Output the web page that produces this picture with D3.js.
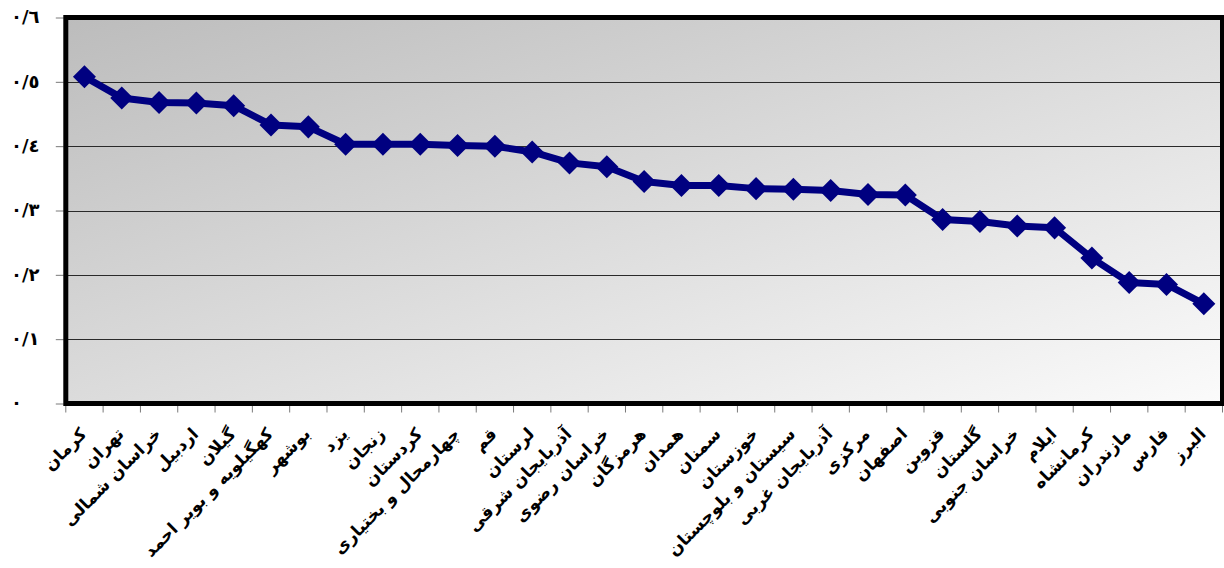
<!DOCTYPE html>
<html>
<head>
<meta charset="utf-8">
<script src="https://cdn.jsdelivr.net/npm/d3@7"></script>
<style>
  html, body { margin: 0; padding: 0; background: #ffffff; }
  svg { display: block; }
  text { font-family: "DejaVu Sans", sans-serif; font-weight: bold; fill: #000; }
</style>
</head>
<body>
<svg id="chart" width="1224" height="568"></svg>
<script>
const categories = [
  "کرمان", "تهران", "خراسان شمالی", "اردبیل", "گیلان", "کهگیلویه و بویر احمد",
  "بوشهر", "یزد", "زنجان", "کردستان", "چهارمحال و بختیاری", "قم", "لرستان",
  "آذربایجان شرقی", "خراسان رضوی", "هرمزگان", "همدان", "سمنان", "خوزستان",
  "سیستان و بلوچستان", "آذربایجان غربی", "مرکزی", "اصفهان", "قزوین", "گلستان",
  "خراسان جنوبی", "ایلام", "کرمانشاه", "مازندران", "فارس", "البرز"
];
const values = [
  0.508, 0.475, 0.468, 0.467, 0.463, 0.433,
  0.430, 0.403, 0.403, 0.403, 0.401, 0.400, 0.391,
  0.374, 0.368, 0.345, 0.339, 0.339, 0.334,
  0.333, 0.331, 0.325, 0.324, 0.286, 0.283,
  0.276, 0.273, 0.226, 0.188, 0.185, 0.155
];
const yTickValues = [0, 0.1, 0.2, 0.3, 0.4, 0.5, 0.6];
const yTickLabels = ["٠", "٠/١", "٠/٢", "٠/٣", "٠/٤", "٠/٥", "٠/٦"];

const svg = d3.select("#chart");
const pLeft = 65.8, pRight = 1222.5, pTop = 17.5, pBottom = 403.5;

const x = d3.scaleBand().domain(categories).range([pLeft, pRight]).padding(0);
const y = d3.scaleLinear().domain([0, 0.6]).range([pBottom, pTop]);

// gradient background
const defs = svg.append("defs");
const grad = defs.append("linearGradient").attr("id", "bg")
  .attr("x1", 0).attr("y1", 0).attr("x2", 1).attr("y2", 1);
grad.append("stop").attr("offset", "0%").attr("stop-color", "#bcbcbc");
grad.append("stop").attr("offset", "100%").attr("stop-color", "#fbfbfb");

svg.append("rect")
  .attr("x", pLeft).attr("y", pTop)
  .attr("width", pRight - pLeft).attr("height", pBottom - pTop)
  .attr("fill", "url(#bg)");

// gridlines
svg.append("g").selectAll("line")
  .data(yTickValues.filter(v => v > 0 && v < 0.6))
  .join("line")
  .attr("x1", pLeft).attr("x2", pRight)
  .attr("y1", d => Math.round(y(d)) + 0.5).attr("y2", d => Math.round(y(d)) + 0.5)
  .attr("stroke", "#2a2a2a").attr("stroke-width", 1);

// y axis
const yAxis = d3.axisLeft(y)
  .tickValues(yTickValues)
  .tickFormat((d, i) => yTickLabels[i])
  .tickSize(8).tickPadding(0);
const gy = svg.append("g").attr("transform", `translate(${pLeft - 2},0)`).call(yAxis);
gy.select(".domain").remove();
gy.selectAll(".tick line").attr("stroke", "#7a7a7a");
gy.selectAll(".tick text")
  .attr("x", 11 - (pLeft - 2))
  .attr("text-anchor", "start")
  .attr("dy", "0.3em")
  .style("font-size", "18px")
  .style("font-family", "'DejaVu Sans', sans-serif")
  .style("font-weight", "bold");

// x ticks at band boundaries
const boundaries = categories.map(c => x(c)).concat([pRight]);
svg.append("g").selectAll("line")
  .data(boundaries)
  .join("line")
  .attr("x1", d => d).attr("x2", d => d)
  .attr("y1", pBottom + 2).attr("y2", pBottom + 9)
  .attr("stroke", "#7a7a7a").attr("stroke-width", 1);

// x labels
svg.append("g").selectAll("text")
  .data(categories)
  .join("text")
  .attr("transform", d => `translate(${x(d) + x.bandwidth() / 2 + 3},${435}) rotate(-45)`)
  .attr("text-anchor", "end")
  .style("font-size", "17px")
  .text(d => d);

// frame
svg.append("rect")
  .attr("x", pLeft).attr("y", pTop)
  .attr("width", pRight - pLeft).attr("height", pBottom - pTop)
  .attr("fill", "none").attr("stroke", "#000").attr("stroke-width", 5);

// line
const line = d3.line()
  .x((d, i) => x(categories[i]) + x.bandwidth() / 2)
  .y(d => y(d));
svg.append("path")
  .datum(values)
  .attr("d", line)
  .attr("fill", "none")
  .attr("stroke", "#000080")
  .attr("stroke-width", 7)
  .attr("stroke-linejoin", "round");

// diamond markers
const sym = d3.symbol().type(d3.symbolSquare).size(265);
svg.append("g").selectAll("path")
  .data(values)
  .join("path")
  .attr("d", sym)
  .attr("transform", (d, i) => `translate(${x(categories[i]) + x.bandwidth() / 2},${y(d)}) rotate(45)`)
  .attr("fill", "#000080");
</script>
</body>
</html>
